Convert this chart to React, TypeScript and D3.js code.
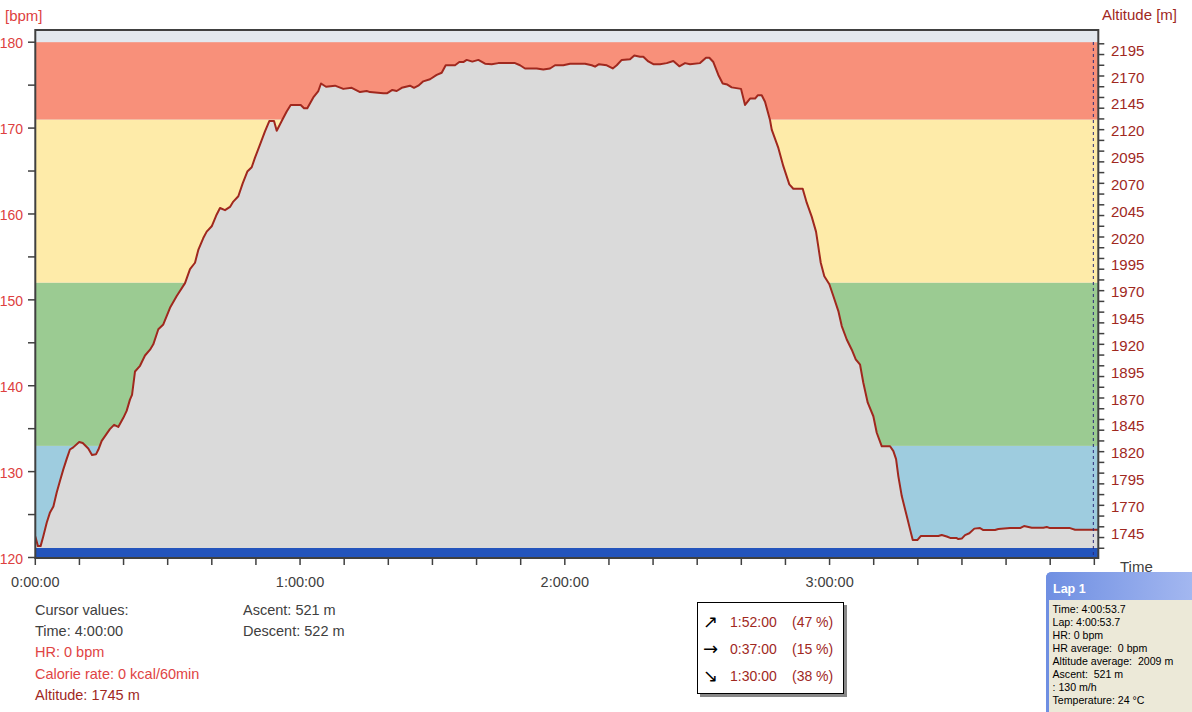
import React from "react";
import * as d3 from "d3";

// ---- data ----
const timeMin = [
  0.0, 0.6, 1.2, 1.8, 2.6, 3.3, 4.1, 4.85, 5.6, 6.35, 7.1, 7.85, 8.6, 9.95, 10.75, 12.0, 12.85, 13.75, 14.3,
  15.05, 15.8, 16.9, 17.85, 18.8, 19.95, 20.7, 21.45, 21.92, 22.6, 23.73, 24.86, 26.0, 26.74, 27.88, 29.01,
  30.53, 32.05, 33.93, 35.06, 36.19, 36.94, 38.07, 38.84, 39.98, 41.11, 41.86, 42.99, 44.12, 44.87, 46.01,
  47.0, 48.05, 49.04, 49.79, 50.92, 52.05, 53.03, 54.1, 54.71, 55.84, 56.97, 57.88, 60.15, 60.9, 61.64, 63.0,
  64.14, 64.75, 65.88, 67.92, 69.8, 71.71, 73.59, 75.1, 75.85, 78.87, 79.77, 80.91, 81.9, 83.04, 84.92, 85.82,
  86.8, 87.93, 89.45, 90.97, 92.1, 93.01, 95.12, 96.09, 97.0, 97.77, 99.04, 100.4, 101.92, 103.43, 104.93,
  108.71, 109.85, 110.98, 113.63, 115.13, 116.65, 117.78, 119.66, 121.18, 124.58, 126.1, 126.85, 127.76,
  129.5, 130.86, 131.77, 132.9, 134.78, 135.75, 137.04, 137.79, 138.92, 140.06, 141.58, 143.09, 144.59,
  145.95, 147.24, 148.37, 150.64, 152.0, 152.75, 153.66, 154.79, 155.78, 156.83, 157.82, 159.93, 160.84,
  161.97, 163.11, 163.72, 164.62, 165.37, 166.5, 166.89, 168.39, 169.52, 170.88, 171.78, 173.91, 174.82,
  175.95, 176.93, 177.45, 178.0, 178.81, 179.95, 180.85, 181.99, 182.76, 183.89, 185.03, 185.93, 186.91,
  187.66, 188.65, 189.92, 190.69, 191.83, 193.71, 194.46, 195.07, 195.59, 196.36, 197.49, 198.24, 198.85,
  199.89, 200.66, 204.65, 205.42, 206.55, 207.46, 208.82, 209.18, 209.95, 210.7, 211.67, 212.81, 214.1,
  214.85, 217.5, 218.25, 220.9, 223.17, 224.07, 225.82, 228.45, 229.22, 229.97, 234.5, 235.63, 239.65, 240.9,
];
const altitude = [
  1741, 1732, 1732, 1741, 1754, 1763, 1769, 1782, 1793, 1803.5, 1813, 1822, 1824, 1829, 1828, 1823, 1817, 1817.5, 1822,
  1830, 1834.5, 1841, 1845, 1843, 1851.5, 1858, 1868.5, 1873, 1894.7, 1900, 1909.6, 1915, 1920, 1934, 1938.5,
  1954, 1965, 1977, 1990, 1996, 2008, 2019, 2025, 2030, 2041, 2047, 2045, 2048, 2053, 2058,
  2070, 2081, 2085, 2094, 2106, 2118.5, 2128, 2128, 2119, 2128, 2137, 2143, 2143, 2140, 2140, 2150,
  2156, 2163, 2160, 2161, 2158, 2159, 2155, 2156, 2155, 2154, 2154, 2157, 2156, 2159, 2161, 2159,
  2161, 2165, 2167, 2171, 2173, 2180, 2180, 2183, 2183, 2185, 2183.4, 2185, 2181.5, 2181, 2182,
  2182, 2180, 2177, 2177, 2176, 2177, 2180, 2180, 2181.5, 2181.5, 2180, 2178.7, 2181,
  2180, 2177, 2180, 2185, 2185.5, 2189, 2188, 2188, 2183.6, 2181, 2181, 2182, 2184,
  2179, 2182, 2181, 2182, 2187, 2187, 2183, 2171, 2163, 2162, 2159.4, 2158, 2143,
  2149, 2149, 2152, 2152, 2146, 2129, 2120, 2103, 2086, 2069, 2065, 2065, 2052,
  2039, 2025, 2011, 1996, 1983.5, 1976, 1965, 1951, 1937, 1924.5, 1915, 1906, 1901,
  1884, 1865.6, 1853, 1837.6, 1825, 1825, 1820.5, 1813, 1797, 1778.6, 1760, 1747.6, 1737.6,
  1737.6, 1741.4, 1741.4, 1742.3, 1741, 1739.5, 1739.5, 1738.6, 1739, 1742.3, 1744, 1748.3, 1748.8,
  1747, 1747, 1748, 1748.8, 1748.8, 1750.7, 1749.2, 1749.2, 1749.8, 1748.8, 1748.8, 1747.3, 1747.3, 1747.3,
];

const hrZoneBounds = [121, 133, 152, 171, 180];
const hrZoneColors = ["#9ECCDF", "#9BCB92", "#FEEBA9", "#F8907A"];
const bpmTicks = d3.range(120, 181, 5);
const bpmLabels = [120, 130, 140, 150, 160, 170, 180];
const altTicks = d3.range(1730, 2201, 10);
const altLabels = d3.range(1745, 2196, 25);
const timeTicks = d3.range(0, 241, 10);
const timeLabels = [
  { t: 0, label: "0:00:00" },
  { t: 60, label: "1:00:00" },
  { t: 120, label: "2:00:00" },
  { t: 180, label: "3:00:00" },
];
const cursorTime = 240;
const cursorLines = [
  { text: "Cursor values:", color: "#404040" },
  { text: "Time: 4:00:00", color: "#404040" },
  { text: "HR: 0 bpm", color: "#E04444" },
  { text: "Calorie rate: 0 kcal/60min", color: "#E04444" },
  { text: "Altitude: 1745 m", color: "#A0281E" },
];
const summaryLines = ["Ascent: 521 m", "Descent: 522 m"];
const slopeRows = [
  { arrow: "↗", time: "1:52:00", pct: "(47 %)" },
  { arrow: "→", time: "0:37:00", pct: "(15 %)" },
  { arrow: "↘", time: "1:30:00", pct: "(38 %)" },
];
const lapLines = [
  "Time: 4:00:53.7",
  "Lap: 4:00:53.7",
  "HR: 0 bpm",
  "HR average:  0 bpm",
  "Altitude average:  2009 m",
  "Ascent:  521 m",
  ": 130 m/h",
  "Temperature: 24 °C",
];

const FONT = "'Liberation Sans', Arial, sans-serif";

export default function App() {
  const left = 35.3;
  const right = 1098.3;
  const top = 30;
  const bottom = 558;
  const x = d3.scaleLinear().domain([0, 240.9]).range([left, right]);
  const yBpm = d3.scaleLinear().domain([120, 180]).range([557.5, 42.2]);
  const yAlt = d3.scaleLinear().domain([1750, 2200]).range([526.8, 43.8]);

  const pts = timeMin.map((t, i) => [t, altitude[i]] as [number, number]);
  const area = d3
    .area<[number, number]>()
    .x((d) => x(d[0]))
    .y0(548)
    .y1((d) => yAlt(d[1]))(pts) as string;
  const line = d3
    .line<[number, number]>()
    .x((d) => x(d[0]))
    .y((d) => yAlt(d[1]))(pts) as string;

  const darkGray = "#404040";

  return (
    <svg
      width={1192}
      height={712}
      style={{ position: "absolute", left: 0, top: 0, background: "#fff" }}
      fontFamily={FONT}
    >
      <defs>
        <clipPath id="plot">
          <rect x={left} y={top} width={right - left} height={bottom - top} />
        </clipPath>
        <linearGradient id="lapTitle" x1="0" x2="1" y1="0" y2="0">
          <stop offset="0" stopColor="#6F8FE2" />
          <stop offset="1" stopColor="#A3B7F0" />
        </linearGradient>
      </defs>
      <rect x={0} y={0} width={1192} height={712} fill="#fff" />

      {/* zones */}
      <g clipPath="url(#plot)">
        <rect x={left} y={top} width={right - left} height={bottom - top} fill="#E3E8EE" />
        {hrZoneColors.map((c, i) => (
          <rect
            key={i}
            x={left}
            y={yBpm(hrZoneBounds[i + 1])}
            width={right - left}
            height={yBpm(hrZoneBounds[i]) - yBpm(hrZoneBounds[i + 1])}
            fill={c}
          />
        ))}
        <path d={area} fill="#DADADA" />
        <path d={line} fill="none" stroke="#A0281E" strokeWidth={2} strokeLinejoin="round" />
        <rect x={left} y={548} width={right - left} height={bottom - 548} fill="#2354BC" />
        <line
          x1={x(cursorTime) - 1}
          x2={x(cursorTime) - 1}
          y1={top + 12}
          y2={bottom}
          stroke="#2A2A78"
          strokeWidth={1}
          strokeDasharray="3,3"
        />
      </g>

      {/* frame */}
      <rect x={left} y={top} width={right - left} height={bottom - top} fill="none" stroke={darkGray} strokeWidth={2} />

      {/* left axis */}
      {bpmTicks.map((v) => (
        <line key={v} x1={28} x2={left} y1={yBpm(v)} y2={yBpm(v)} stroke={darkGray} strokeWidth={1.5} />
      ))}
      {bpmLabels.map((v) => (
        <text key={v} x={23} y={yBpm(v) + 6} textAnchor="end" fontSize={14} fill="#DD4040">
          {v}
        </text>
      ))}
      <text x={5} y={21} fontSize={15} fill="#DD4040">
        [bpm]
      </text>

      {/* right axis */}
      {altTicks.map((v) => (
        <line key={v} x1={right} x2={right + 6} y1={yAlt(v)} y2={yAlt(v)} stroke={darkGray} strokeWidth={1.5} />
      ))}
      {altLabels.map((v) => (
        <text key={v} x={1111} y={yAlt(v) + 6.5} fontSize={15} fill="#A0281E">
          {v}
        </text>
      ))}
      <text x={1102} y={20} fontSize={15} fill="#A0281E">
        Altitude [m]
      </text>

      {/* x axis */}
      {timeTicks.map((t) => (
        <line key={t} x1={x(t)} x2={x(t)} y1={bottom} y2={565} stroke={darkGray} strokeWidth={1.5} />
      ))}
      {timeLabels.map((d) => (
        <text key={d.t} x={x(d.t)} y={586.5} textAnchor="middle" fontSize={14.5} fill={darkGray}>
          {d.label}
        </text>
      ))}
      <text x={1120} y={572} fontSize={15} fill={darkGray}>
        Time
      </text>

      {/* cursor values */}
      {cursorLines.map((l, i) => (
        <text key={i} x={35} y={614.5 + i * 21.4} fontSize={14.5} fill={l.color}>
          {l.text}
        </text>
      ))}
      {summaryLines.map((s, i) => (
        <text key={i} x={243} y={614.5 + i * 21.4} fontSize={14.5} fill={darkGray}>
          {s}
        </text>
      ))}

      {/* slope box */}
      <rect x={700} y={605} width={147} height={92} fill="#888" />
      <rect x={697.5} y={602.5} width={146} height={91} fill="#fff" stroke="#000" strokeWidth={1} />
      {slopeRows.map((r, i) => (
        <g key={i}>
          <text x={703} y={627.5 + i * 27.2} fontSize={18} fill="#000" fontFamily="'DejaVu Sans', sans-serif">
            {r.arrow}
          </text>
          <text x={730} y={626.5 + i * 27.2} fontSize={14} fill="#A0281E">
            {r.time}
          </text>
          <text x={792} y={626.5 + i * 27.2} fontSize={14} fill="#A0281E">
            {r.pct}
          </text>
        </g>
      ))}

      {/* lap panel */}
      <path d="M1046,712 L1046,578 Q1046,572 1052,572 L1192,572 L1192,712 Z" fill="#6F8FE2" />
      <path d="M1046,600 L1046,578 Q1046,572 1052,572 L1192,572 L1192,600 Z" fill="url(#lapTitle)" />
      <rect x={1049} y={600} width={143} height={112} fill="#ECE9D8" />
      <text x={1053} y={593} fontSize={12.5} fontWeight="bold" fill="#fff">
        Lap 1
      </text>
      {lapLines.map((s, i) => (
        <text key={i} x={1052.5} y={613.3 + i * 12.95} fontSize={10.6} fill="#000" style={{ whiteSpace: "pre" }}>
          {s}
        </text>
      ))}
    </svg>
  );
}
